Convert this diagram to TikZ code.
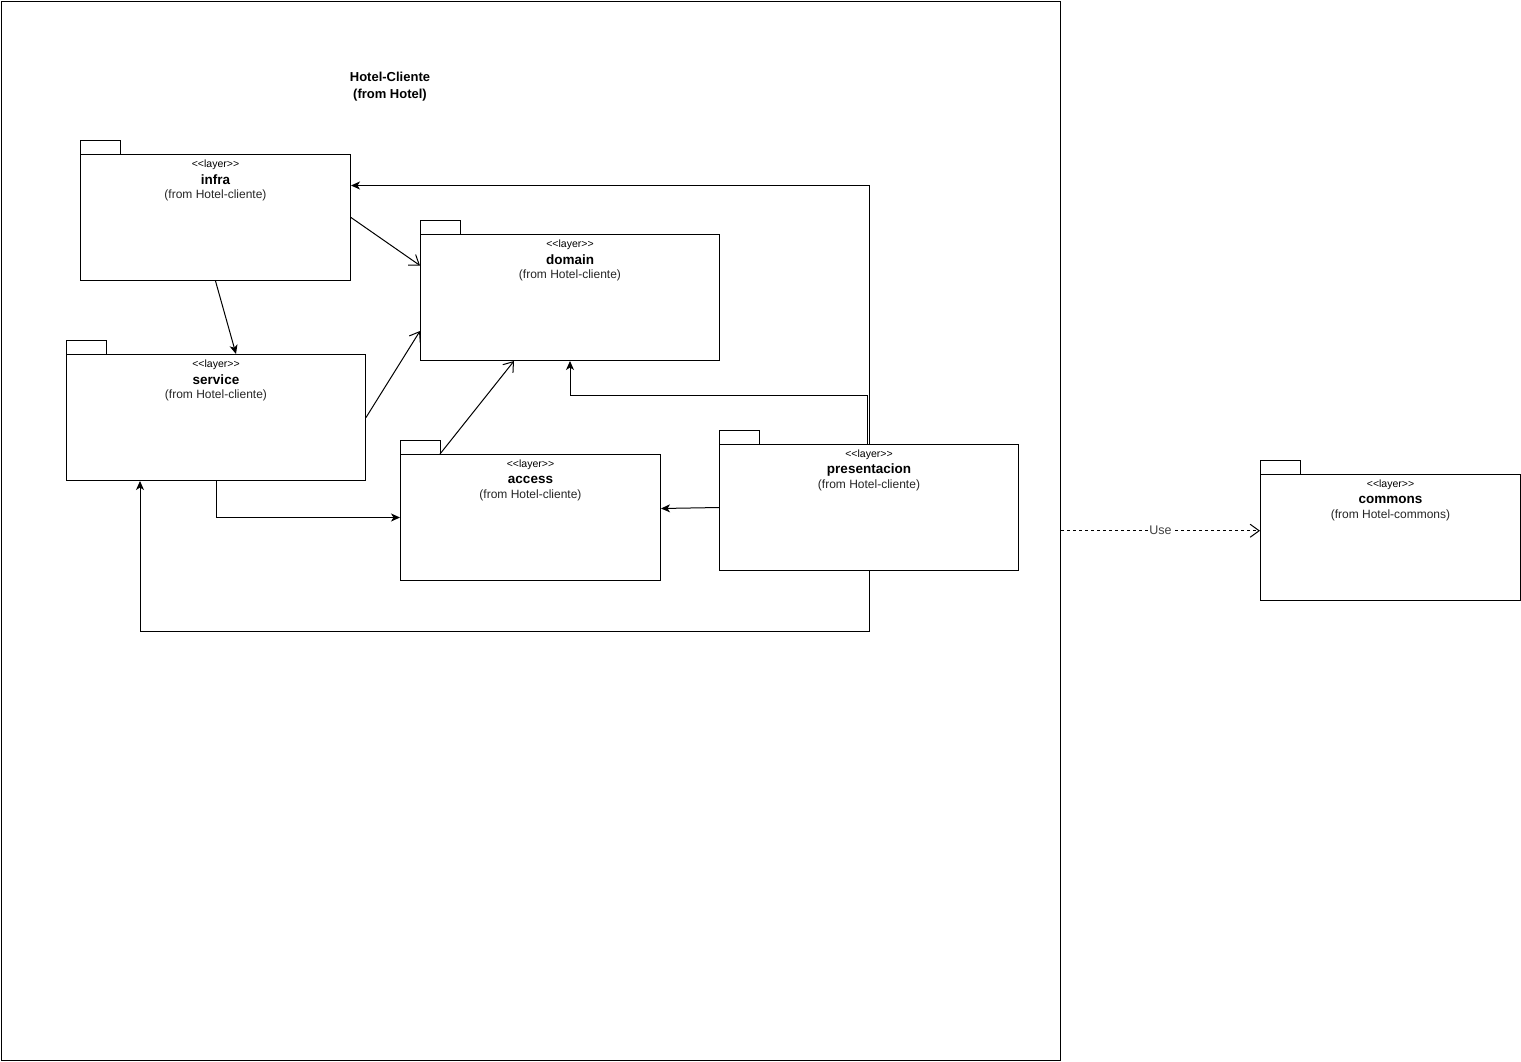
\documentclass[tikz,border=0pt]{standalone}
\usepackage{fontspec}
\setmainfont{Liberation Sans}
\usetikzlibrary{arrows.meta,calc}

\tikzset{
  frame/.style={draw, line width=1pt, inner sep=0pt, anchor=north west},
  pkgbody/.style={draw, line width=1pt, fill=white, minimum height=126pt,
    anchor=north west, inner sep=0pt},
  pkgtab/.style={draw, line width=1pt, fill=white},
  stereo/.style={font=\fontsize{10.5}{12}\selectfont, inner sep=0pt},
  pkgname/.style={font=\fontsize{13.5}{15}\selectfont\bfseries, inner sep=0pt},
  pkgfrom/.style={font=\fontsize{12}{14}\selectfont, text=black!85, inner sep=0pt},
  heading/.style={font=\fontsize{13}{17}\selectfont\bfseries, align=center, inner sep=0pt},
  dep/.style={line width=1pt, -{Straight Barb[length=9pt,width=13pt,line width=1pt]}},
  link/.style={line width=1pt, -{Stealth[length=9pt,width=8pt,inset=2.5pt]}},
  use/.style={line width=1pt, dash pattern=on 3pt off 3pt,
    -{Straight Barb[length=9pt,width=13pt,line width=1pt]}},
  uselabel/.style={fill=white, text=black!75, inner sep=1pt,
    font=\fontsize{12.5}{14}\selectfont},
}

% UML package: name, left, top, width, title, origin
\newcommand\umlpackage[6]{%
  \node[pkgbody, minimum width=#4pt] (#1) at (#2,#3) {};
  \draw[pkgtab] (#1.north west) rectangle ++(40,-14);
  \node[stereo] at ($(#1.north)+(0,10.5)$) {<\kern0pt<layer>\kern0pt>};
  \node[pkgname] at ($(#1.north)+(0,26)$) {#5};
  \node[pkgfrom] at ($(#1.north)+(0,41.5)$) {#6};
}

\begin{document}
\begin{tikzpicture}[x=1pt, y=-1pt]
  \useasboundingbox (0,0) rectangle (1521,1061);

  % enclosing package Hotel-Cliente
  \node[frame, minimum width=1059.5pt, minimum height=1059.5pt] (frame) at (0.5,0.5) {};
  \node[heading] (title) at (390,87) {Hotel-Cliente\\(from Hotel)};

  % layers
  \umlpackage{infra}{80}{154}{270}{infra}{(from Hotel-cliente)}
  \umlpackage{service}{66}{354}{299}{service}{(from Hotel-cliente)}
  \umlpackage{domain}{420}{234}{299}{domain}{(from Hotel-cliente)}
  \umlpackage{access}{400}{454}{260}{access}{(from Hotel-cliente)}
  \umlpackage{presentacion}{719}{444}{299}{presentacion}{(from Hotel-cliente)}
  \umlpackage{commons}{1260}{474}{260}{commons}{(from Hotel-commons)}

  % dependencies between layers
  \draw[dep] (infra.east) -- ([yshift=32pt]domain.west);
  \draw[link] (infra.south) -- ([xshift=20pt]service.north);
  \draw[dep] (service.east) -- ([yshift=30pt]domain.south west);
  \draw[dep] ([xshift=40pt]access.north west) -- ([xshift=94pt]domain.south west);
  \draw[link] (service.south) |- (access.west);
  \draw[link] (presentacion.west) -- ([yshift=9pt]access.east);
  \draw[link] (presentacion.north) |- ([yshift=32pt]infra.east);
  \draw[link] ([xshift=-1.5pt]presentacion.north) -- ++(0,-49) -| (domain.south);
  \draw[link] (presentacion.south) -- ++(0,60) -| ([xshift=74pt]service.south west);

  % usage of the commons package
  \draw[use] (frame.east) -- node[uselabel] {Use} (frame.east -| commons.west);
\end{tikzpicture}
\end{document}
